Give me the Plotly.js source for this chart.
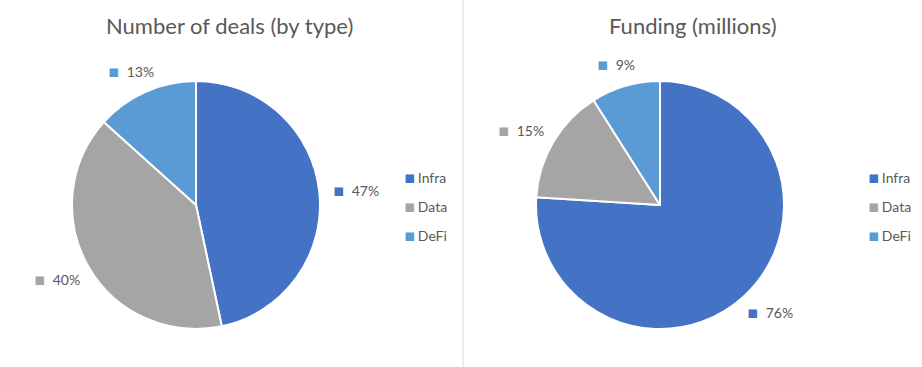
<!DOCTYPE html>
<html>
<head>
<meta charset="utf-8">
<script src="https://cdn.plot.ly/plotly-3.0.1.min.js"></script>
<style>html,body{margin:0;padding:0;background:#fff;}#chart{width:922px;height:367px;}</style>
</head>
<body>
<div id="chart"></div>
<script>
// ---- data ----
const categories = ["Infra", "Data", "DeFi"];
const dealsValues = [7, 6, 2];          // number of deals by type (47%, 40%, 13%)
const fundingValues = [76, 15, 9];      // funding share (millions) 76%, 15%, 9%
const colors = ["#4472C4", "#A5A5A5", "#5B9BD5"];
const titles = ["Number of deals (by type)", "Funding (millions)"];

// ---- layout settings ----
const W = 922, H = 367;
const textColor = "#595959";
const fontFam = "Lato, 'Open Sans', sans-serif";
const domains = [
  {x: [(196 - 124) / W, (196 + 124) / W], y: [1 - 329 / H, 1 - 81 / H]},
  {x: [(660 - 124) / W, (660 + 124) / W], y: [1 - 329 / H, 1 - 81 / H]}
];
const series = [dealsValues, fundingValues];

const traces = series.map((vals, i) => ({
  type: "pie",
  labels: categories,
  values: vals,
  sort: false,
  direction: "clockwise",
  rotation: 0,
  domain: domains[i],
  marker: {colors: colors, line: {color: "#ffffff", width: 2}},
  textinfo: "none",
  hoverinfo: "label+percent",
  showlegend: false
}));

const annotations = [];
const sq = c => `<span style="color:${c};font-family:'DejaVu Sans';font-size:17px">▪</span>`;
const thin = `<span style="font-size:9px"> </span>`;

series.forEach((vals, i) => {
  const d = domains[i];
  const cx = (d.x[0] + d.x[1]) / 2 * W;
  const cy = (1 - (d.y[0] + d.y[1]) / 2) * H;
  const R = Math.min((d.x[1] - d.x[0]) * W, (d.y[1] - d.y[0]) * H) / 2;
  const total = vals.reduce((a, b) => a + b, 0);
  const gap = 16, boxH = 14;
  let cum = 0;
  vals.forEach((v, k) => {
    const mid = (cum + v / 2) / total * 2 * Math.PI;
    cum += v;
    const pct = Math.round(v / total * 100);
    const boxW = pct < 10 ? 36 : 42;
    const ux = Math.sin(mid), uy = -Math.cos(mid);
    const px = cx + (R + gap + boxW / 2) * ux;
    const py = cy + (R + gap + boxH / 2) * uy;
    annotations.push({
      x: px / W, y: 1 - py / H, xref: "paper", yref: "paper",
      xanchor: "center", yanchor: "middle", showarrow: false,
      text: sq(colors[k]) + "  " + pct + "%",
      font: {family: fontFam, size: 14, color: textColor}
    });
  });
  // title
  annotations.push({
    x: (cx + 33) / W, y: 1 - 25 / H, xref: "paper", yref: "paper",
    xanchor: "center", yanchor: "middle", showarrow: false,
    text: titles[i],
    font: {family: fontFam, size: 22, color: textColor}
  });
  // legend entries
  categories.forEach((c, k) => {
    annotations.push({
      x: (cx + 206) / W, y: 1 - (177 + k * 29) / H, xref: "paper", yref: "paper",
      xanchor: "left", yanchor: "middle", showarrow: false,
      text: sq(colors[k]) + thin + c,
      font: {family: fontFam, size: 14, color: textColor}
    });
  });
});

const layout = {
  width: W, height: H,
  margin: {l: 0, r: 0, t: 0, b: 0},
  paper_bgcolor: "#ffffff",
  plot_bgcolor: "#ffffff",
  showlegend: false,
  annotations: annotations,
  shapes: [{
    type: "line", xref: "paper", yref: "paper",
    x0: 463 / W, x1: 463 / W, y0: 0, y1: 1,
    line: {color: "#D9D9D9", width: 1}
  }]
};

Plotly.newPlot("chart", traces, layout, {displayModeBar: false, staticPlot: true});
</script>
</body>
</html>
